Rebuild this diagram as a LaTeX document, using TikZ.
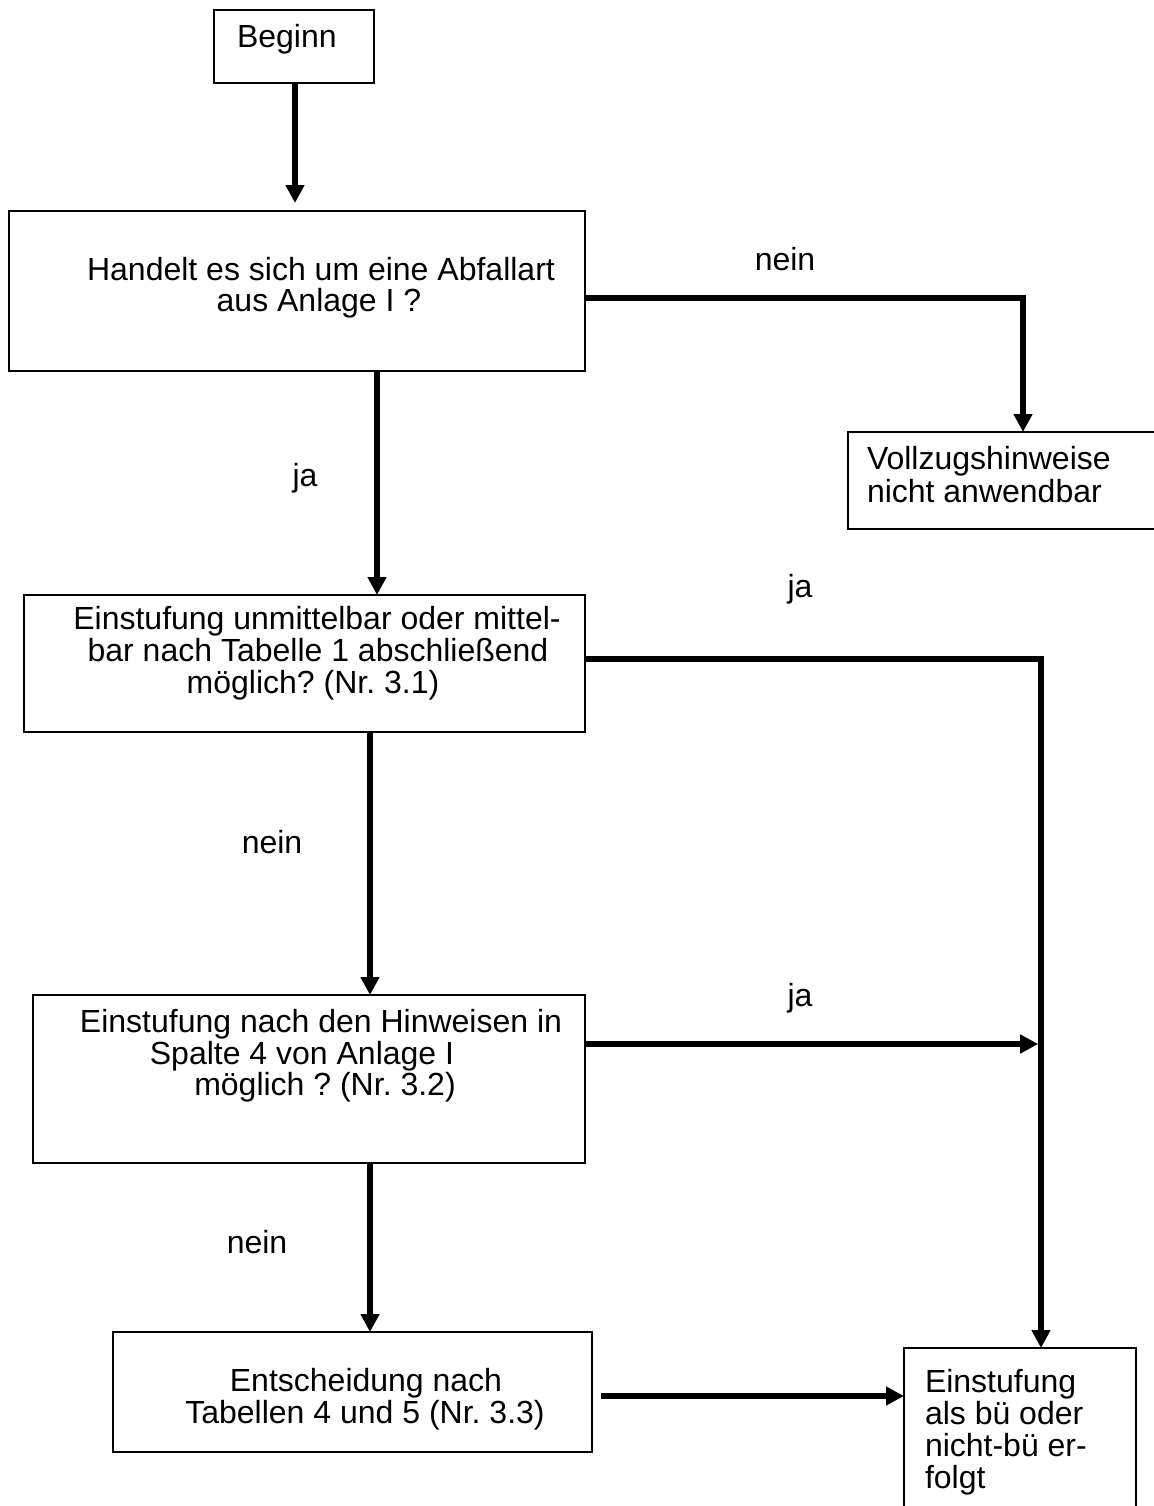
\documentclass[tikz,border=0pt]{standalone}
\usepackage{fontspec}
\setmainfont{Liberation Sans}
\usetikzlibrary{arrows.meta}
\frenchspacing
\begin{document}
\begin{tikzpicture}[x=0.5pt,y=-0.5pt,
  box/.style={draw,line width=1pt,inner sep=0pt,outer sep=0pt},
  txt/.style={inner sep=0pt,outer sep=0pt,font=\fontsize{16pt}{16pt}\selectfont},
  arr/.style={line width=2.8pt,-{Triangle[length=9pt,width=9pt]}}]
\useasboundingbox (0,0) rectangle (1154,1506);
\clip (0,0) rectangle (1154,1506);
% boxes
\node[box,minimum width=80pt,minimum height=36.5pt] (b1) at (294,46.5) {};
\node[box,minimum width=288pt,minimum height=80pt] (b2) at (297,291) {};
\node[box,minimum width=200pt,minimum height=48.5pt] (b7) at (1048,480.5) {};
\node[box,minimum width=280.5pt,minimum height=68.5pt] (b3) at (304.5,663.5) {};
\node[box,minimum width=276pt,minimum height=84pt] (b4) at (309,1079) {};
\node[box,minimum width=239.5pt,minimum height=60pt] (b5) at (352.5,1392) {};
\node[box,minimum width=116pt,minimum height=100pt] (b6) at (1020,1448) {};
% texts
\node[txt,anchor=base west] (t1) at (237,47) {Beginn};
\node[txt,anchor=base] (t2a) at (321,280) {Handelt es sich um eine Abfallart};
\node[txt,anchor=base] (t2b) at (319,311) {aus Anlage I ?};
\node[txt,anchor=base west] (t7a) at (867,469) {Vollzugshinweise};
\node[txt,anchor=base west] (t7b) at (867,502) {nicht anwendbar};
\node[txt,anchor=base] (t3a) at (317,629) {Einstufung unmittelbar oder mittel-};
\node[txt,anchor=base] (t3b) at (318,661) {bar nach Tabelle 1 abschließend};
\node[txt,anchor=base] (t3c) at (313,693) {möglich? (Nr. 3.1)};
\node[txt,anchor=base] (t4a) at (321,1032) {Einstufung nach den Hinweisen in};
\node[txt,anchor=base] (t4b) at (302,1064) {Spalte 4 von Anlage I};
\node[txt,anchor=base] (t4c) at (325,1095) {möglich ? (Nr. 3.2)};
\node[txt,anchor=base] (t5a) at (366,1391) {Entscheidung nach};
\node[txt,anchor=base] (t5b) at (365,1423) {Tabellen 4 und 5 (Nr. 3.3)};
\node[txt,anchor=base west] (t6a) at (925,1392) {Einstufung};
\node[txt,anchor=base west] (t6b) at (925,1424) {als bü oder};
\node[txt,anchor=base west] (t6c) at (925,1456) {nicht-bü er-};
\node[txt,anchor=base west] (t6d) at (925,1488) {folgt};
% labels
\node[txt,anchor=base] (l1) at (785,270) {nein};
\node[txt,anchor=base] (l2) at (305,486) {ja};
\node[txt,anchor=base] (l3) at (800,597) {ja};
\node[txt,anchor=base] (l4) at (272,853) {nein};
\node[txt,anchor=base] (l5) at (800,1006) {ja};
\node[txt,anchor=base] (l6) at (257,1253) {nein};
% connector coordinates
\coordinate (x0) at (295,0);
\coordinate (x1) at (377,0);
\coordinate (x2) at (370,0);
\coordinate (k1) at (1023,298);
\coordinate (k2) at (1041,659);
\coordinate (k3) at (1041,1044);
\coordinate (k4) at (0,1396);
% connectors
\draw[arr,shorten >=4pt] (b1.south -| x0) -- (b2.north -| x0);
\draw[arr] (b2.east |- k1) -- (k1) -- (k1 |- b7.north);
\draw[arr] (b2.south -| x1) -- (b3.north -| x1);
\draw[arr] (b3.east |- k2) -- (k2) -- (k2 |- b6.north);
\draw[arr] (b3.south -| x2) -- (b4.north -| x2);
\draw[arr,shorten >=1.4pt] (b4.east |- k3) -- (k3);
\draw[arr] (b4.south -| x2) -- (b5.north -| x2);
\draw[arr,shorten <=4.5pt] (b5.east |- k4) -- (b6.west |- k4);
\end{tikzpicture}
\end{document}
